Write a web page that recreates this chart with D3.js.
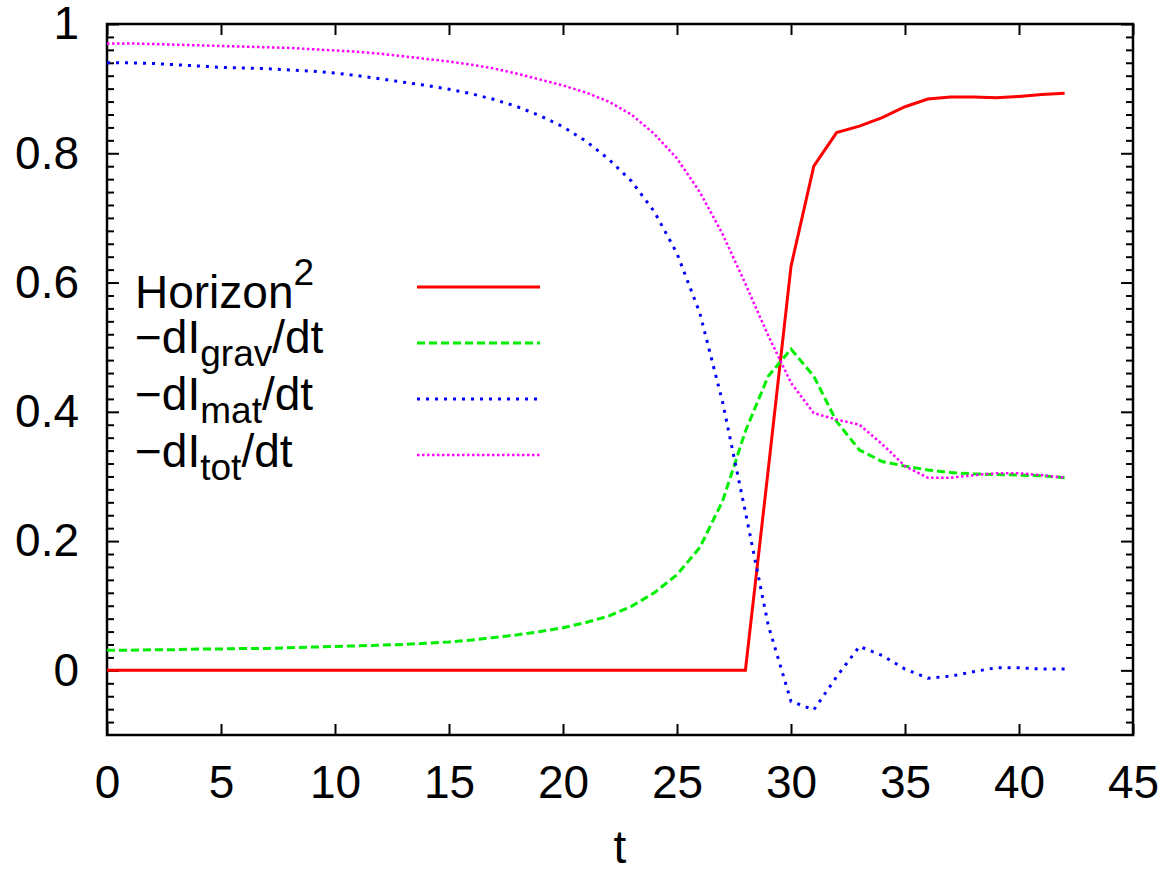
<!doctype html>
<html>
<head>
  <meta charset="UTF-8">
  <title>Horizon and dI/dt</title>
  <style>
    body { margin: 0; background: #fff; }
    svg text { font-family: "Liberation Sans", Arial, sans-serif; fill: #000; }
  </style>
</head>
<body>
  <div id="chart"></div>
  <script src="https://cdn.jsdelivr.net/npm/d3@7"></script>
  <script>
    // time samples
    var t = [0, 1, 2, 3, 4, 5, 6, 7, 8, 9, 10, 11, 12, 13, 14, 15, 16, 17, 18, 19, 20,
      21, 22, 23, 24, 25, 26, 27, 28, 29, 30, 31, 32, 33, 34, 35, 36, 37, 38, 39, 40, 41, 42];

    var horizon = [0, 0, 0, 0, 0, 0, 0, 0, 0, 0, 0, 0, 0, 0, 0, 0, 0, 0, 0, 0, 0,
      0, 0, 0, 0, 0, 0, 0, 0, 0.31, 0.625, 0.78, 0.832, 0.842, 0.855, 0.872, 0.884, 0.887, 0.887, 0.886, 0.888, 0.891, 0.893];

    var dIgrav = [0.031, 0.031, 0.032, 0.032, 0.033, 0.033, 0.034, 0.034, 0.035, 0.036, 0.037,
      0.038, 0.039, 0.040, 0.042, 0.044, 0.047, 0.051, 0.055, 0.060, 0.066,
      0.074, 0.084, 0.099, 0.120, 0.148, 0.190, 0.262, 0.37, 0.455, 0.497,
      0.455, 0.385, 0.341, 0.323, 0.316, 0.310, 0.306, 0.304, 0.303, 0.302, 0.301, 0.298];

    var dImat = [0.940, 0.940, 0.939, 0.937, 0.935, 0.933, 0.932, 0.931, 0.929, 0.927, 0.924,
      0.920, 0.915, 0.910, 0.905, 0.899, 0.892, 0.883, 0.872, 0.858, 0.841,
      0.819, 0.791, 0.757, 0.710, 0.645, 0.553, 0.415, 0.245, 0.07, -0.048,
      -0.061, -0.01, 0.037, 0.023, 0.002, -0.012, -0.009, -0.002, 0.004, 0.004, 0.002, 0.002];

    var dItot = [0.970, 0.970, 0.969, 0.968, 0.967, 0.966, 0.965, 0.964, 0.963, 0.961, 0.959,
      0.957, 0.954, 0.950, 0.946, 0.942, 0.937, 0.931, 0.923, 0.914, 0.905,
      0.894, 0.880, 0.860, 0.830, 0.792, 0.740, 0.675, 0.598, 0.518, 0.445,
      0.398, 0.388, 0.380, 0.35, 0.316, 0.298, 0.298, 0.302, 0.305, 0.305, 0.302, 0.298];

    var xTicks = [0, 5, 10, 15, 20, 25, 30, 35, 40, 45];
    var yTicks = [0, 0.2, 0.4, 0.6, 0.8, 1];
    var yTickLabels = ["0", "0.2", "0.4", "0.6", "0.8", "1"];

    var series = [
      { values: horizon, color: "#ff0000", width: 3, dash: null,
        label: [["Horizon", 0], ["2", -1]] },
      { values: dIgrav, color: "#00ee00", width: 3, dash: "8,4",
        label: [["\u2212dI", 0], ["grav", 1], ["/dt", 0]] },
      { values: dImat, color: "#0000ff", width: 3, dash: "3,6",
        label: [["\u2212dI", 0], ["mat", 1], ["/dt", 0]] },
      { values: dItot, color: "#ff00ff", width: 2.5, dash: "2.5,2.5",
        label: [["\u2212dI", 0], ["tot", 1], ["/dt", 0]] }
    ];

    var W = 1168, H = 871;
    var margin = { top: 24, right: 35, bottom: 136, left: 107 };
    var iw = W - margin.left - margin.right;
    var ih = H - margin.top - margin.bottom;
    var fontSize = 46;
    var smallSize = 37;

    var svg = d3.select("#chart").append("svg")
      .attr("width", W)
      .attr("height", H);

    var g = svg.append("g")
      .attr("transform", "translate(" + margin.left + "," + margin.top + ")");

    var x = d3.scaleLinear().domain([0, 45]).range([0, iw]);
    var y = d3.scaleLinear().domain([-0.1, 1]).range([ih, 0]);

    // minor y ticks every 0.02
    var yMinor = d3.range(-4, 51).map(function(i) { return i * 0.02; })
      .filter(function(v) { return Math.abs(v * 5 - Math.round(v * 5)) > 1e-6; });

    function styleAxis(sel) {
      sel.select(".domain").remove();
      sel.selectAll(".tick line").attr("stroke", "#000").attr("stroke-width", 2);
      sel.selectAll(".tick text").style("font-size", fontSize + "px")
        .style("font-family", "'Liberation Sans', Arial, sans-serif");
    }

    // minor ticks (left and right)
    g.append("g").call(d3.axisLeft(y).tickValues(yMinor).tickSize(-7).tickFormat(""))
      .call(styleAxis);
    g.append("g").attr("transform", "translate(" + iw + ",0)")
      .call(d3.axisRight(y).tickValues(yMinor).tickSize(-7).tickFormat(""))
      .call(styleAxis);

    // major y ticks
    g.append("g")
      .call(d3.axisLeft(y).tickValues(yTicks).tickSize(-12).tickPadding(28)
        .tickFormat(function(d, i) { return yTickLabels[i]; }))
      .call(styleAxis);
    g.append("g").attr("transform", "translate(" + iw + ",0)")
      .call(d3.axisRight(y).tickValues(yTicks).tickSize(-12).tickFormat(""))
      .call(styleAxis);

    // x ticks bottom and top
    g.append("g").attr("transform", "translate(0," + ih + ")")
      .call(d3.axisBottom(x).tickValues(xTicks).tickSize(-11).tickPadding(30).tickFormat(d3.format("d")))
      .call(styleAxis);
    g.append("g")
      .call(d3.axisTop(x).tickValues(xTicks).tickSize(-11).tickFormat(""))
      .call(styleAxis);

    // frame
    g.append("rect")
      .attr("width", iw).attr("height", ih)
      .attr("fill", "none").attr("stroke", "#000").attr("stroke-width", 2.5);

    // x axis title
    svg.append("text")
      .attr("x", margin.left + iw / 2)
      .attr("y", 863)
      .attr("text-anchor", "middle")
      .style("font-size", fontSize + "px")
      .text("t");

    var line = d3.line()
      .x(function(d, i) { return x(t[i]); })
      .y(function(d) { return y(d); });

    g.selectAll("path.series")
      .data(series)
      .enter().append("path")
      .attr("class", "series")
      .attr("d", function(s) { return line(s.values); })
      .attr("fill", "none")
      .attr("stroke", function(s) { return s.color; })
      .attr("stroke-width", function(s) { return s.width; })
      .attr("stroke-dasharray", function(s) { return s.dash; });

    // legend
    var legendRowY = [287, 343, 399, 455];
    var legendTextY = [308, 353, 410, 467];
    var legend = svg.append("g");

    series.forEach(function(s, k) {
      legend.append("line")
        .attr("x1", 417).attr("x2", 540)
        .attr("y1", legendRowY[k]).attr("y2", legendRowY[k])
        .attr("stroke", s.color)
        .attr("stroke-width", s.width)
        .attr("stroke-dasharray", s.dash);

      var txt = legend.append("text")
        .attr("x", 135)
        .attr("y", legendTextY[k])
        .style("font-size", fontSize + "px");

      var prevShift = 0;
      s.label.forEach(function(part) {
        var shift = part[1] === -1 ? -23 : (part[1] === 1 ? 13 : 0);
        txt.append("tspan")
          .attr("dy", shift - prevShift)
          .style("font-size", (part[1] === 0 ? fontSize : smallSize) + "px")
          .text(part[0]);
        prevShift = shift;
      });
    });
  </script>
</body>
</html>
